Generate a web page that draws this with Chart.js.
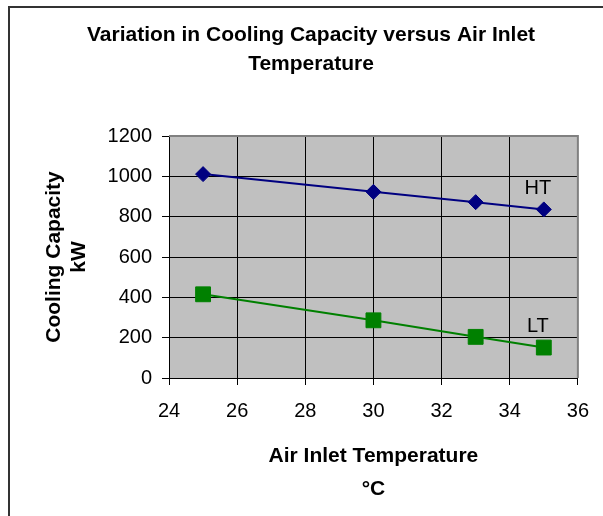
<!DOCTYPE html>
<html>
<head>
<meta charset="utf-8">
<script src="https://cdn.jsdelivr.net/npm/chart.js@4/dist/chart.umd.min.js"></script>
<style>
    html, body { margin: 0; padding: 0; background: #ffffff; }
    #chart { display: block; }
</style>
</head>
<body>
<canvas id="chart" width="603" height="516"></canvas>
<script>
(function () {
    "use strict";

    // valores
    const airTemps = [25, 30, 33, 35];
    const htCapacity = [1011, 923, 872, 836];
    const ltCapacity = [415, 286, 204, 151];
    const seriesNames = ["HT", "LT"];
    const xRange = [24, 36, 2];
    const yRange = [0, 1200, 200];

    const FONT = "'Liberation Sans', Arial, Helvetica, sans-serif";
    Chart.defaults.font.family = FONT;
    Chart.defaults.color = "#000000";

    const toPoints = (vals) => airTemps.map((t, i) => ({ x: t, y: vals[i] }));

    // fondo gris del area, marco exterior y etiquetas HT / LT
    const excelLook = {
        id: "excelLook",
        afterLayout(chart) {
            // el titulo va centrado sobre todo el recuadro, no solo la parte izquierda
            chart.titleBlock.left = 20;
            chart.titleBlock.right = 602;
        },
        beforeDraw(chart) {
            const { ctx, chartArea: a } = chart;
            ctx.save();
            ctx.fillStyle = "#ffffff";
            ctx.fillRect(0, 0, chart.width, chart.height);
            ctx.fillStyle = "#c0c0c0";
            ctx.fillRect(a.left, a.top, a.right - a.left, a.bottom - a.top);
            ctx.strokeStyle = "#333333";
            ctx.lineWidth = 2;
            ctx.strokeRect(9, 7, chart.width + 50, chart.height + 50);
            ctx.restore();
        },
        beforeDatasetsDraw(chart) {
            const { ctx, chartArea: a } = chart;
            ctx.save();
            ctx.strokeStyle = "#808080";
            ctx.lineWidth = 2;
            ctx.beginPath();
            ctx.moveTo(a.left, a.top);
            ctx.lineTo(a.right, a.top);
            ctx.lineTo(a.right, a.bottom);
            ctx.stroke();
            ctx.restore();
        },
        afterDatasetsDraw(chart) {
            const { ctx } = chart;
            ctx.save();
            ctx.font = "20px " + FONT;
            ctx.fillStyle = "#000000";
            ctx.textAlign = "center";
            ctx.textBaseline = "middle";
            chart.data.datasets.forEach((ds, i) => {
                const pts = chart.getDatasetMeta(i).data;
                const last = pts[pts.length - 1];
                ctx.fillText(seriesNames[i], last.x - 6, last.y - 21);
            });
            ctx.restore();
        },
    };

    const ctx = document.getElementById("chart").getContext("2d");
    new Chart(ctx, {
        type: "line",
        data: {
            datasets: [
                {
                    label: seriesNames[0],
                    data: toPoints(htCapacity),
                    borderColor: "#000080",
                    backgroundColor: "#000080",
                    borderWidth: 2,
                    pointStyle: "rectRot",
                    pointRadius: 7.5,
                    pointBorderWidth: 1,
                },
                {
                    label: seriesNames[1],
                    data: toPoints(ltCapacity),
                    borderColor: "#008000",
                    backgroundColor: "#008000",
                    borderWidth: 2,
                    pointStyle: "rect",
                    pointRadius: 10.5,
                    pointBorderWidth: 1,
                },
            ],
        },
        options: {
            responsive: false,
            animation: false,
            layout: { padding: { left: 0, right: 23, top: 0, bottom: 0 } },
            plugins: {
                legend: { display: false },
                tooltip: { enabled: false },
                title: {
                    display: true,
                    text: ["Variation in Cooling Capacity versus Air Inlet", "Temperature"],
                    color: "#000000",
                    font: { size: 21, weight: "bold", lineHeight: "29px" },
                    padding: { top: 20.5, bottom: 57.5 },
                },
            },
            scales: {
                x: {
                    type: "linear",
                    min: xRange[0],
                    max: xRange[1],
                    ticks: { stepSize: xRange[2], padding: 14, font: { size: 20 }, color: "#000000" },
                    grid: { color: "#000000", lineWidth: 1, tickLength: 7 },
                    border: { display: true, color: "#000000", width: 1 },
                    title: {
                        display: true,
                        text: ["Air Inlet Temperature", "\u00B0C"],
                        color: "#000000",
                        font: { size: 21, weight: "bold", lineHeight: "33px" },
                        padding: { top: 0, bottom: 10.5 },
                    },
                    afterFit(scale) { scale.height = 138; },
                },
                y: {
                    min: yRange[0],
                    max: yRange[1],
                    ticks: {
                        stepSize: yRange[2],
                        padding: 10,
                        font: { size: 20 },
                        color: "#000000",
                        callback: (v) => String(v),
                    },
                    grid: { color: "#000000", lineWidth: 1, tickLength: 7 },
                    border: { display: true, color: "#000000", width: 1 },
                    title: {
                        display: true,
                        text: ["Cooling Capacity", "kW"],
                        color: "#000000",
                        font: { size: 21, weight: "bold", lineHeight: "25px" },
                        padding: { top: 42, bottom: 0 },
                    },
                    afterFit(scale) { scale.width = 169; },
                },
            },
        },
        plugins: [excelLook],
    });
})();
</script>
</body>
</html>
